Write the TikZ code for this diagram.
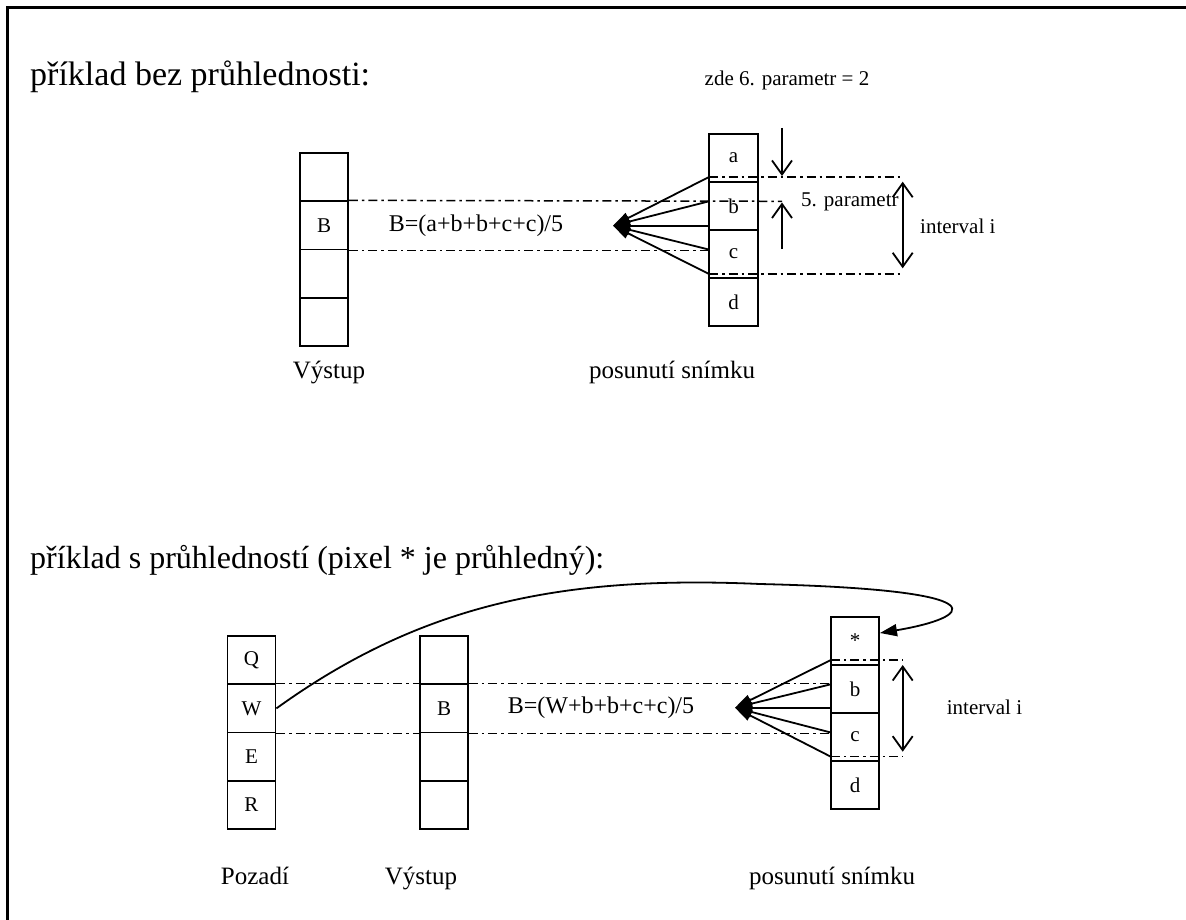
\documentclass[tikz,border=0pt]{standalone}
\usepackage{fontspec}
\setmainfont{Liberation Serif}
\usetikzlibrary{arrows.meta}
\begin{document}
\begin{tikzpicture}[x=1pt,y=-1pt,
  cell/.style={draw, line width=1.8pt, minimum width=48pt, minimum height=48.3pt, inner sep=0pt, font=\fontsize{21}{24}\selectfont},
  rcell/.style={cell, minimum width=49pt, minimum height=48pt},
  dd/.style={line width=1.5pt, dash pattern=on 9pt off 4pt on 2.5pt off 4pt},
  fan/.style={line width=1.8pt, -{Triangle[length=17pt,width=11pt]}},
  vline/.style={line width=1.8pt},
  vhead/.style={-{Straight Barb[length=14pt,width=20pt,line width=1.8pt]}},
  vboth/.style={{Straight Barb[length=14pt,width=20pt,line width=1.8pt]}-{Straight Barb[length=14pt,width=20pt,line width=1.8pt]}},
  curvearrow/.style={line width=1.8pt, -{Triangle[length=17pt,width=12pt]}},
  title/.style={anchor=base west, font=\fontsize{33}{36}\selectfont, inner sep=0pt},
  label/.style={anchor=base, font=\fontsize{25}{28}\selectfont, inner sep=0pt},
  formula/.style={font=\fontsize{24}{27}\selectfont, inner sep=0pt},
  small/.style={font=\fontsize{21}{24}\selectfont, inner sep=0pt}
]
\useasboundingbox (0,0) rectangle (1186,920);
% frame
\draw[line width=2.2pt] (7.5,920) -- (7.5,7.5) -- (1186,7.5);

% ---------- top section ----------
\node[title, font=\fontsize{34}{37}\selectfont] (t1) at (30,86) {příklad bez průhlednosti:};
\node[small, anchor=center] (zde) at (787,80) {zde 6. parametr = 2};

\node[cell] (o1) at (324,177.1) {};
\node[cell] (o2) at (324,225.4) {B};
\node[cell] (o3) at (324,273.6) {};
\node[cell] (o4) at (324,321.9) {};

\node[rcell] (a) at (733.5,158) {a};
\node[rcell] (b) at (733.5,206) {b};
\node[rcell] (c) at (733.5,254) {c};
\node[rcell] (d) at (733.5,302) {d};

\node[formula] (f) at (476,226) {B=(a+b+b+c+c)/5};

\coordinate (p1) at (782,201.3);
\draw[dd] (o2.north east) -- (p1);
\draw[dd] (o2.south east) -- (o2.south east -| c.west);

\coordinate (ft) at (613,225.7);
\coordinate (f1) at (709,177);
\coordinate (f2) at (709,201.3);
\coordinate (f3) at (709,225.7);
\coordinate (f4) at (709,249.6);
\coordinate (f5) at (709,274);
\coordinate (i1) at (902,177);
\coordinate (i2) at (902,274);
\draw[dd] (f1) -- (i1);
\draw[dd] (f5) -- (i2);
\foreach \s in {f1,f2,f3,f4,f5} \draw[fan] (\s) -- (ft);

\coordinate (u0) at (782,128);
\coordinate (u1) at (782,176);
\coordinate (l0) at (782,249);
\coordinate (l1) at (782,202.5);
\draw[vline, vhead] (u0) -- (u1);
\draw[vline, vhead] (l0) -- (l1);
\node[small, anchor=west] (par5) at (801,201.7) {5. parametr};

\coordinate (ia) at (902.7,181.7);
\coordinate (ib) at (902.7,268.3);
\draw[vline, vboth] (ia) -- (ib);
\node[small, anchor=west] (int1) at (920,226) {interval i};

\node[label] (vy1) at (329,378) {Výstup};
\node[label] (pos1) at (672,378) {posunutí snímku};

% ---------- bottom section ----------
\node[title, font=\fontsize{32}{35}\selectfont] (t2) at (30,568) {příklad s průhledností (pixel * je průhledný):};

\node[cell] (q) at (251.5,660.1) {Q};
\node[cell] (w) at (251.5,708.4) {W};
\node[cell] (e) at (251.5,756.6) {E};
\node[cell] (r) at (251.5,804.9) {R};

\node[cell] (v1) at (444,660.1) {};
\node[cell] (v2) at (444,708.4) {B};
\node[cell] (v3) at (444,756.6) {};
\node[cell] (v4) at (444,804.9) {};

\node[cell] (s1) at (855,640.8) {*};
\node[cell] (s2) at (855,688.9) {b};
\node[cell] (s3) at (855,737.0) {c};
\node[cell] (s4) at (855,785.1) {d};

\node[formula] (f2t) at (601,708) {B=(W+b+b+c+c)/5};

\draw[dd] (w.north east) -- (v2.north west);
\draw[dd] (w.south east) -- (v2.south west);
\draw[dd] (v2.north east) -- (v2.north east -| s2.west);
\draw[dd] (v2.south east) -- (v2.south east -| s2.west);

\coordinate (gt) at (735,707.7);
\coordinate (g1) at (830.8,660);
\coordinate (g2) at (830.8,684.3);
\coordinate (g3) at (830.8,707.7);
\coordinate (g4) at (830.8,732.5);
\coordinate (g5) at (830.8,756.7);
\coordinate (j1) at (903,660);
\coordinate (j2) at (903,756.7);
\draw[dd] (g1) -- (j1);
\draw[dd] (g5) -- (j2);
\foreach \s in {g1,g2,g3,g4,g5} \draw[fan] (\s) -- (gt);

\coordinate (ja) at (902.7,665);
\coordinate (jb) at (902.7,751.7);
\draw[vline, vboth] (ja) -- (jb);
\node[small, anchor=west] (int2) at (946.7,707) {interval i};

\coordinate (ctip) at (880,633);
\draw[curvearrow] (w.east) .. controls (420,605) and (560,575) .. (760,584)
   .. controls (1010,590) and (970,618) .. (ctip);

\node[label] (poz) at (255,884) {Pozadí};
\node[label] (vy2) at (421,884) {Výstup};
\node[label] (pos2) at (832,884) {posunutí snímku};
\end{tikzpicture}
\end{document}
